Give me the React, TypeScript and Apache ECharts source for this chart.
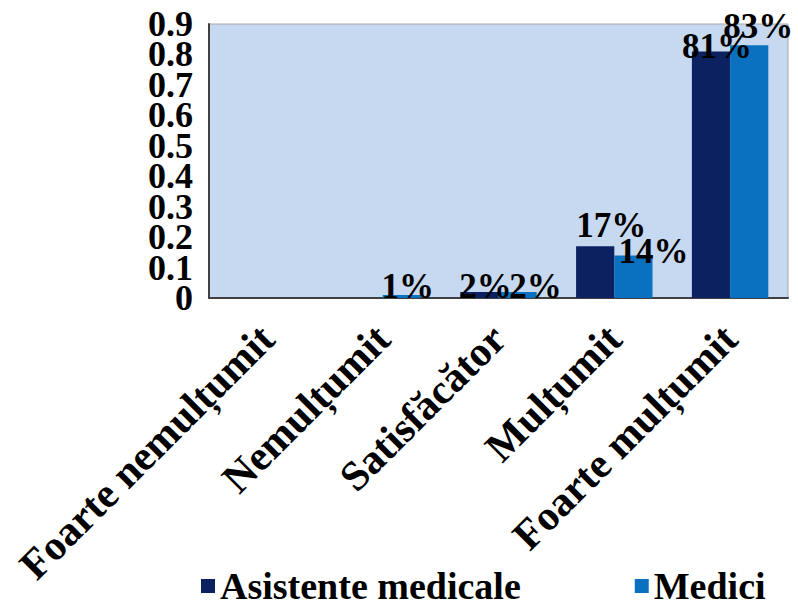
import React, { useEffect, useRef } from "react";
import * as echarts from "echarts";

const categories = ["Foarte nemulțumit", "Nemulțumit", "Satisfăcător", "Mulțumit", "Foarte mulțumit"];
const seriesNames = ["Asistente medicale", "Medici"];
const asistente = [0, 0, 0.02, 0.17, 0.81];
const medici = [0, 0.01, 0.02, 0.14, 0.83];
const colors = ["#0b2160", "#0a70c0"];
const yMin = 0;
const yMax = 0.9;
const yStep = 0.1;
// label nudges (style only)
const asistenteLabelOffset = [[0, 0], [0, 0], [6, 12], [16, -3], [6, 13]];
const mediciLabelOffset = [[0, 0], [6, 9], [18, 12], [20, 14], [9, -1]];

const FONT = "'Liberation Serif', 'Times New Roman', serif";

const fmt = (v: number) => (Math.abs(v) < 1e-9 ? "0" : v.toFixed(1));

export default function App() {
  const ref = useRef<HTMLDivElement>(null);
  useEffect(() => {
    if (!ref.current) return;
    const chart = echarts.init(ref.current, undefined, { renderer: "svg" });
    const mk = (vals: number[], offs: number[][]) =>
      vals.map((v, i) => ({
        value: v,
        label: { offset: offs[i] },
      }));
    const labelCfg = {
      show: true,
      position: "top",
      distance: 0,
      fontFamily: FONT,
      fontSize: 35,
      fontWeight: "bold",
      color: "#000",
      formatter: (p: any) => (p.value > 0 ? Math.round(p.value * 100) + "%" : ""),
    };
    const yLabelStyle = {
      margin: 16,
      fontFamily: FONT,
      fontSize: 36,
      fontWeight: "bold",
      color: "#000",
    };
    chart.setOption({
      animation: false,
      textStyle: { fontFamily: FONT },
      grid: {
        left: 209,
        right: 10,
        top: 24,
        bottom: 312,
        show: true,
        backgroundColor: "#c6d9f1",
        borderColor: "#a6a6a6",
        borderWidth: 1,
      },
      legend: {
        bottom: 0,
        left: 196,
        itemWidth: 14,
        itemHeight: 14,
        itemGap: 114,
        icon: "rect",
        textStyle: { fontFamily: FONT, fontSize: 38, fontWeight: "bold", color: "#000" },
        data: seriesNames,
      },
      xAxis: {
        type: "category",
        data: categories,
        axisLine: { lineStyle: { color: "#404040", width: 2 } },
        axisTick: { show: false },
        axisLabel: {
          interval: 0,
          rotate: 45,
          margin: 34,
          fontFamily: FONT,
          fontSize: 42,
          fontWeight: "bold",
          color: "#000",
        },
      },
      yAxis: [
        {
          type: "value",
          position: "left",
          min: yMin,
          max: yMax,
          interval: yStep,
          axisLine: { show: true, lineStyle: { color: "#404040", width: 2 } },
          axisTick: { show: false },
          splitLine: { show: false },
          axisLabel: {
            ...yLabelStyle,
            showMinLabel: false,
            showMaxLabel: false,
            formatter: fmt,
          },
        },
        {
          type: "value",
          position: "left",
          min: yMin,
          max: yMax,
          interval: yStep,
          axisLine: { show: false },
          axisTick: { show: false },
          splitLine: { show: false },
          axisLabel: {
            ...yLabelStyle,
            showMinLabel: true,
            showMaxLabel: true,
            formatter: (v: number) =>
              Math.abs(v - yMin) < 1e-9 || Math.abs(v - yMax) < 1e-9 ? fmt(v) : "",
          },
        },
      ],
      series: [
        {
          name: seriesNames[0],
          type: "bar",
          yAxisIndex: 0,
          data: mk(asistente, asistenteLabelOffset),
          itemStyle: { color: colors[0] },
          barGap: "0%",
          barCategoryGap: "34%",
          label: labelCfg,
        },
        {
          name: seriesNames[1],
          type: "bar",
          yAxisIndex: 0,
          data: mk(medici, mediciLabelOffset),
          itemStyle: { color: colors[1] },
          barGap: "0%",
          barCategoryGap: "34%",
          label: labelCfg,
        },
      ],
    });
    return () => chart.dispose();
  }, []);
  return <div ref={ref} style={{ width: 798, height: 610, position: "absolute", left: 0, top: 0 }} />;
}
